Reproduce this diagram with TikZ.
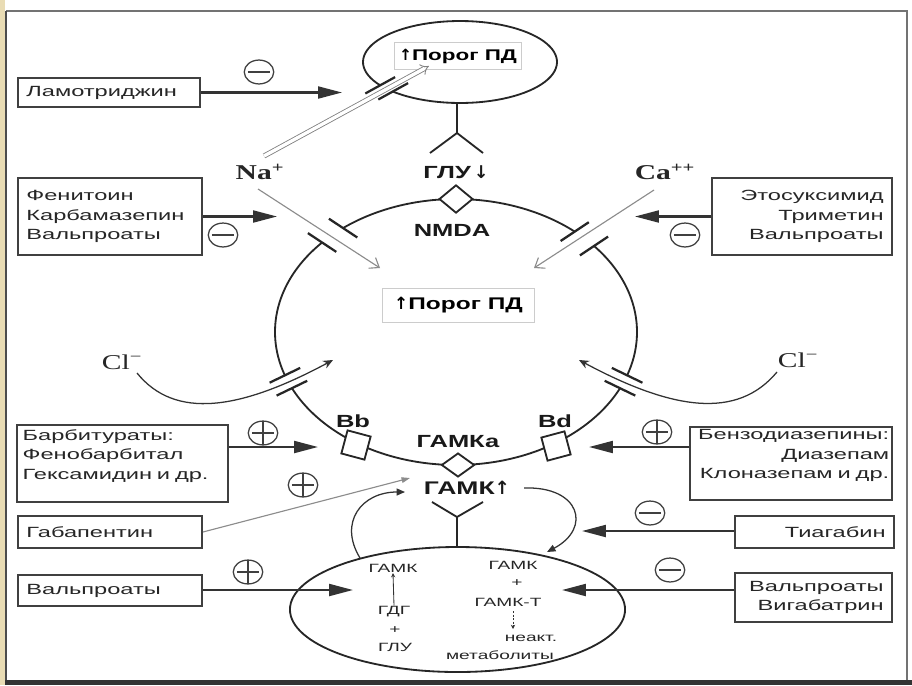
\documentclass[tikz,border=0pt]{standalone}
\usepackage{fontspec}
\usetikzlibrary{arrows.meta,shapes.geometric,calc}
\newfontfamily\dfont[FakeStretch=1.6]{Liberation Sans}
\newfontfamily\lfont[FakeStretch=1.45]{Liberation Sans}
\newfontfamily\ionfnt[FakeStretch=1.4]{Liberation Serif}
\newfontfamily\arrfnt{DejaVu Sans}
\newcommand{\upa}{{\arrfnt ↑}}
\newcommand{\dna}{{\arrfnt ↓}}
\definecolor{tanc}{RGB}{233,220,180}
\begin{document}
\begin{tikzpicture}[x=0.025cm,y=-0.025cm,
  box/.style={draw=black!75, line width=1.3pt, inner xsep=6pt, inner ysep=0pt,
    font=\dfont\fontsize{10.5}{13.9}\selectfont, text=black!85},
  lbox/.style={box, align=left},
  rbox/.style={box, align=right},
  lbl/.style={font=\lfont\bfseries\fontsize{12.5}{14}\selectfont, inner sep=1pt, text=black!90},
  small/.style={font=\dfont\fontsize{8.5}{10}\selectfont, inner sep=0.5pt, text=black!85},
  ion/.style={font=\ionfnt\fontsize{15}{17}\selectfont, inner sep=1pt, text=black!85},
  drug/.style={draw=black!80, line width=1.5pt, -{Triangle[length=17pt,width=8.5pt]}},
  ionarr/.style={draw=black!45, line width=0.8pt, -{Straight Barb[length=6pt,width=9pt]}},
  mem/.style={draw=black!85, line width=1.3pt},
  chbar/.style={draw=black!85, line width=1.6pt},
  sgn/.style={draw=black!75, line width=0.9pt, ellipse, minimum width=21pt, minimum height=17pt, inner sep=0pt},
  sminus/.style={sgn, path picture={\draw[line width=1.4pt,black!75]
     ([xshift=2.5pt]path picture bounding box.west) -- ([xshift=-2.5pt]path picture bounding box.east);}},
  splus/.style={sgn, path picture={\draw[line width=1.4pt,black!75]
     ([xshift=2.5pt]path picture bounding box.west) -- ([xshift=-2.5pt]path picture bounding box.east)
     (path picture bounding box.north) -- (path picture bounding box.south);}},
  loop/.style={draw=black!80, line width=0.9pt, -{Triangle[length=6pt,width=5pt]}}
]
\useasboundingbox (0,0) rectangle (912,685);
% frame
\fill[white] (0,0) rectangle (912,685);
\fill[tanc] (0,0) rectangle (5,685);
\draw[black!55, line width=1.2pt] (6,11) -- (907,11) -- (907,681);
\draw[black!70, line width=1.2pt] (6,11) -- (6,681);
\fill[black!80] (5,680) rectangle (912,685);

% ---------- top ellipse ----------
\draw[mem] plot[domain=225.7:574.6,samples=90] ({460+97*cos(\x)},{62-41*sin(\x)});
\draw[chbar] ($(380.2,85.3)+(14.9,-8.2)$) -- ($(380.2,85.3)-(14.9,-8.2)$);
\draw[chbar] ($(393.2,91.3)+(14.9,-8.2)$) -- ($(393.2,91.3)-(14.9,-8.2)$);
\node[draw=black!20, line width=0.6pt, minimum width=90pt, minimum height=19pt, inner sep=1pt,
  font=\lfont\bfseries\fontsize{11}{13}\selectfont] (porog1) at (458,56) {\upa Порог ПД};

% fork below top ellipse
\coordinate (f1) at (457,103);
\coordinate (f2) at (457,133);
\coordinate (f3) at (430,153);
\coordinate (f4) at (483,153);
\draw[mem] (f1) -- (f2) (f3) -- (f2) -- (f4);
\node[lbl] (glu) at (456,172) {ГЛУ\,\dna};

% ---------- big membrane ----------
\draw[mem] plot[domain=49:128.6,samples=60] ({456+181*cos(\x)},{332-133*sin(\x)});
\draw[mem] plot[domain=137.7:199,samples=60] ({456+181*cos(\x)},{332-133*sin(\x)});
\draw[mem] plot[domain=205:335,samples=90] ({456+181*cos(\x)},{332-133*sin(\x)});
\draw[mem] plot[domain=341:400.3,samples=60] ({456+181*cos(\x)},{332-133*sin(\x)});
% channel bars
\draw[chbar] ($(343.1,228.1)+(14.2,9.4)$) -- ($(343.1,228.1)-(14.2,9.4)$);
\draw[chbar] ($(322.1,242.5)+(14.2,9.4)$) -- ($(322.1,242.5)-(14.2,9.4)$);
\draw[chbar] ($(574.7,231.6)+(14.1,-9.4)$) -- ($(574.7,231.6)-(14.1,-9.4)$);
\draw[chbar] ($(594.0,246.0)+(14.1,-9.4)$) -- ($(594.0,246.0)-(14.1,-9.4)$);
\draw[chbar] ($(284.9,375.3)+(15.3,-7.4)$) -- ($(284.9,375.3)-(15.3,-7.4)$);
\draw[chbar] ($(291.9,388.2)+(15.3,-7.4)$) -- ($(291.9,388.2)-(15.3,-7.4)$);
\draw[chbar] ($(627.1,375.3)+(15.3,7.4)$) -- ($(627.1,375.3)-(15.3,7.4)$);
\draw[chbar] ($(620.0,388.2)+(15.3,7.4)$) -- ($(620.0,388.2)-(15.3,7.4)$);

% receptors
\node[diamond, mem, fill=white, minimum width=24pt, minimum height=20pt, inner sep=0pt] (nmdar) at (456,199) {};
\node[lbl] (nmda) at (452,230) {NMDA};
\node[diamond, mem, fill=white, minimum width=23.5pt, minimum height=17pt, inner sep=0pt] (gabar) at (458,465) {};
\node[lbl] (gabaa) at (458,442) {ГАМКа};
\node[rectangle, mem, fill=white, minimum size=17pt, inner sep=0pt, rotate=-15] (bbsq) at (356,445) {};
\node[rectangle, mem, fill=white, minimum size=17pt, inner sep=0pt, rotate=15] (bdsq) at (556,446) {};
\node[lbl] (bb) at (353,421) {Bb};
\node[lbl] (bd) at (555,421) {Bd};

\node[draw=black!20, line width=0.6pt, minimum width=108pt, minimum height=24pt, inner sep=1pt,
  font=\lfont\bfseries\fontsize{12}{14}\selectfont] (porog2) at (458.5,305.5) {\upa Порог ПД};

% ions
\node[ion, font=\ionfnt\bfseries\fontsize{15}{17}\selectfont] (na) at (260,172) {Na\textsuperscript{+}};
\node[ion, font=\ionfnt\bfseries\fontsize{15}{17}\selectfont] (ca) at (665,172) {Ca\textsuperscript{++}};
\node[ion] (cll) at (122,362) {Cl\textsuperscript{−}};
\node[ion] (clr) at (798,360) {Cl\textsuperscript{−}};

\coordinate (na1) at (264,156);
\coordinate (natop) at (429,66);
\draw[draw=black!50, double=white, double distance=2.4pt, line width=0.6pt, -{Implies}] (na1) -- (natop);
\coordinate (na2) at (258,189);
\coordinate (naend) at (380,268);
\draw[ionarr] (na2) -- (naend);
\coordinate (ca1) at (654,190);
\coordinate (caend) at (534,268);
\draw[ionarr] (ca1) -- (caend);
\coordinate (cl1) at (137,373);
\coordinate (cl1end) at (333,360);
\draw[draw=black!80, line width=0.9pt, -{Stealth[length=7pt,width=6pt]}] (cl1) .. controls (175,420) and (240,410) .. (cl1end);
\coordinate (cl2) at (777,372);
\coordinate (cl2end) at (579,360);
\draw[draw=black!80, line width=0.9pt, -{Stealth[length=7pt,width=6pt]}] (cl2) .. controls (737,420) and (672,410) .. (cl2end);

% ---------- GABA ----------
\node[lbl, font=\lfont\bfseries\fontsize{13}{15}\selectfont] (gabk) at (467,488) {ГАМК\upa};
\coordinate (g1) at (432,502);
\coordinate (g2) at (457,517);
\coordinate (g3) at (483,502);
\draw[mem] (g1) -- (g2) -- (g3) (g2) -- (457,547);

\node[ellipse, mem, minimum width=238.3pt, minimum height=88.9pt, inner sep=0pt] (gabaell) at (457.5,609.5) {};

\coordinate (lp1) at (360,558);
\coordinate (lp2) at (405,492);
\draw[loop] (lp1) .. controls (338,522) and (362,492) .. (lp2);
\coordinate (rp1) at (524,488);
\coordinate (rp2) at (547,552);
\draw[loop] (rp1) .. controls (580,486) and (592,528) .. (rp2);

% inside bottom ellipse
\node[small] (t1) at (393,568) {ГАМК};
\node[small] (t2) at (394,612) {ГДГ};
\node[small] (t3) at (395,630) {+};
\node[small] (t4) at (395,647) {ГЛУ};
\draw[black!80, line width=0.6pt, -{Stealth[length=3pt,width=3pt]}] (t2.north) -- (t1.south);
\node[small] (u1) at (513,565) {ГАМК};
\node[small] (u2) at (517,583) {+};
\node[small] (u3) at (508,602) {ГАМК-Т};
\node[small] (u4) at (531,638) {неакт.};
\node[small] (u5) at (500,655) {метаболиты};
\draw[black!80, line width=0.6pt, dashed, dash pattern=on 1.5pt off 1pt, -{Stealth[length=3pt,width=3pt]}] (513,611) -- (513,629);

% ---------- drug boxes ----------
\node[lbox, text width=117.5pt, minimum height=20.6pt] (lam) at (109,92.5) {Ламотриджин};
\node[lbox, text width=118.9pt, minimum height=54.8pt] (fen) at (110,216.5) {Фенитоин\\Карбамазепин\\Вальпроаты};
\node[rbox, text width=116pt, minimum height=54.8pt] (eto) at (802,216.5) {Этосуксимид\\Триметин\\Вальпроаты};
\node[lbox, inner xsep=4pt, text width=142pt, minimum height=54.8pt] (barb) at (122.5,463.5) {Барбитураты:\\Фенобарбитал\\Гексамидин и др.\rule[-13pt]{0pt}{13pt}};
\node[rbox, inner xsep=2pt, text width=139.7pt, minimum height=51.9pt] (benz) at (791,463.5) {Бензодиазепины:\\Диазепам\\Клоназепам и др.\rule[-13pt]{0pt}{13pt}};
\node[lbox, text width=118.9pt, minimum height=22.8pt] (gaba) at (110,532) {Габапентин};
\node[rbox, text width=101.1pt, minimum height=22.8pt] (tiag) at (814.5,532) {Тиагабин};
\node[lbox, text width=118.9pt, minimum height=22pt] (valp) at (110,590.5) {Вальпроаты};
\node[rbox, text width=99.7pt, minimum height=34.9pt] (valvig) at (813.5,597.5) {Вальпроаты\\Вигабатрин};

% arrows from boxes
\coordinate (lamend) at (342,92.5);
\draw[drug] (lam.east) -- (lamend);
\coordinate (fenend) at (277,216.5);
\draw[drug] (fen.east) -- (fenend);
\coordinate (etoend) at (635,216.5);
\draw[drug] (eto.west) -- (etoend);
\coordinate (barbend) at (318,447);
\draw[drug] (barbend -| barb.east) -- (barbend);
\coordinate (benzend) at (589,447);
\draw[drug] (benzend -| benz.west) -- (benzend);
\coordinate (tiagend) at (582,531);
\draw[drug] (tiagend -| tiag.west) -- (tiagend);
\coordinate (valpend) at (353,590);
\draw[drug] (valpend -| valp.east) -- (valpend);
\coordinate (valvigend) at (562,590);
\draw[drug] (valvigend -| valvig.west) -- (valvigend);
\coordinate (gabaend) at (410,478);
\draw[draw=black!45, line width=0.8pt, -{Triangle[length=6pt,width=4pt]}] (gaba.east) -- (gabaend);

% signs
\node[sminus] (s1) at (259,72) {};
\node[sminus] (s2) at (223,235) {};
\node[sminus] (s3) at (685,235) {};
\node[splus] (s4) at (263,433) {};
\node[splus] (s5) at (657,432) {};
\node[splus] (s6) at (303,485) {};
\node[sminus] (s7) at (650,513) {};
\node[splus] (s8) at (248,572) {};
\node[sminus] (s9) at (670,570) {};
\end{tikzpicture}
\end{document}
